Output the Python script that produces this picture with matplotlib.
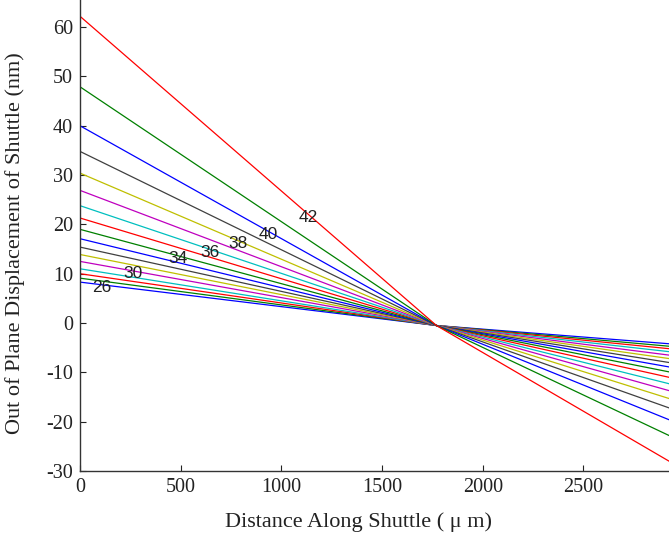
import numpy as np
import matplotlib
matplotlib.use("Agg")
import matplotlib.pyplot as plt

plt.rcParams['font.family'] = ['Liberation Serif', 'DejaVu Serif']
plt.rcParams['axes.unicode_minus'] = False

# Drive level of each curve (used as inline labels)
levels = [26, 27, 28, 29, 30, 31, 32, 33, 34, 35, 36, 37, 38, 39, 40, 41, 42]
# Displacement (nm) at the shuttle start, x = 0 um
start_nm = [8.3, 9.1, 10.0, 11.0, 12.5, 13.9, 15.4, 17.1, 19.0, 21.3,
            23.8, 26.9, 30.4, 34.8, 40.0, 47.9, 62.2]
# Common pivot where all curves cross
pivot_x = 1770.0
pivot_nm = -0.5
# Displacement (nm) at the far end, x = 2925 um
end_x = 2925.0
end_nm = [-4.2, -4.7, -5.2, -5.8, -6.5, -7.2, -8.0, -8.9, -9.9, -11.0,
          -12.3, -13.7, -15.3, -17.2, -19.6, -22.8, -28.0]

# Inline labels: level and x position along the shuttle
label_levels = [26, 30, 34, 36, 38, 40, 42]
label_x = [109, 263, 487, 645, 784, 933, 1132]

# MATLAB default colour cycle
color_cycle = [(0, 0, 1), (0, 0.5, 0), (1, 0, 0), (0, 0.75, 0.75),
               (0.75, 0, 0.75), (0.75, 0.75, 0), (0.25, 0.25, 0.25)]

fig = plt.figure(figsize=(6.69, 5.39), dpi=100)
ax = fig.add_axes([80 / 669, 68 / 539, 1 - 80 / 669, 1 - 68 / 539])

curves = {}
for i, (lvl, y0, y1) in enumerate(zip(levels, start_nm, end_nm)):
    xs = [0.0, pivot_x, end_x]
    ys = [y0, pivot_nm, y1]
    curves[lvl] = (xs, ys)
    ax.plot(xs, ys, color=color_cycle[i % len(color_cycle)], lw=0.9)

for lvl, lx in zip(label_levels, label_x):
    xs, ys = curves[lvl]
    ly = np.interp(lx, xs, ys)
    ax.text(lx, ly - 0.6, str(lvl), fontsize=12.5, ha='center', va='center',
            family=['Liberation Sans', 'DejaVu Sans'], color='#222222')

ax.set_xlim(0, end_x)
ax.set_ylim(-30, 65.5)
ax.set_xticks([0, 500, 1000, 1500, 2000, 2500])
ax.set_yticks(np.arange(-30, 61, 10))
ax.tick_params(direction='in', length=4, width=0.8, labelsize=14.5, pad=5,
               colors='#222222')
for side in ('top', 'right'):
    ax.spines[side].set_visible(False)
for side in ('left', 'bottom'):
    ax.spines[side].set_linewidth(1.0)
    ax.spines[side].set_color('#333333')

ax.set_xlabel('Distance Along Shuttle ( \u03bc m)', fontsize=16, color='#222222')
ax.set_ylabel('Out of Plane Displacement of Shuttle (nm)', fontsize=16,
              color='#222222')
ax.xaxis.set_label_coords(0.472, -0.108)
ax.yaxis.set_label_coords(-0.110, 0.484)
ax.xaxis.label.set_va('center')
ax.yaxis.label.set_va('center')

fig.savefig('out.png', dpi=100)
